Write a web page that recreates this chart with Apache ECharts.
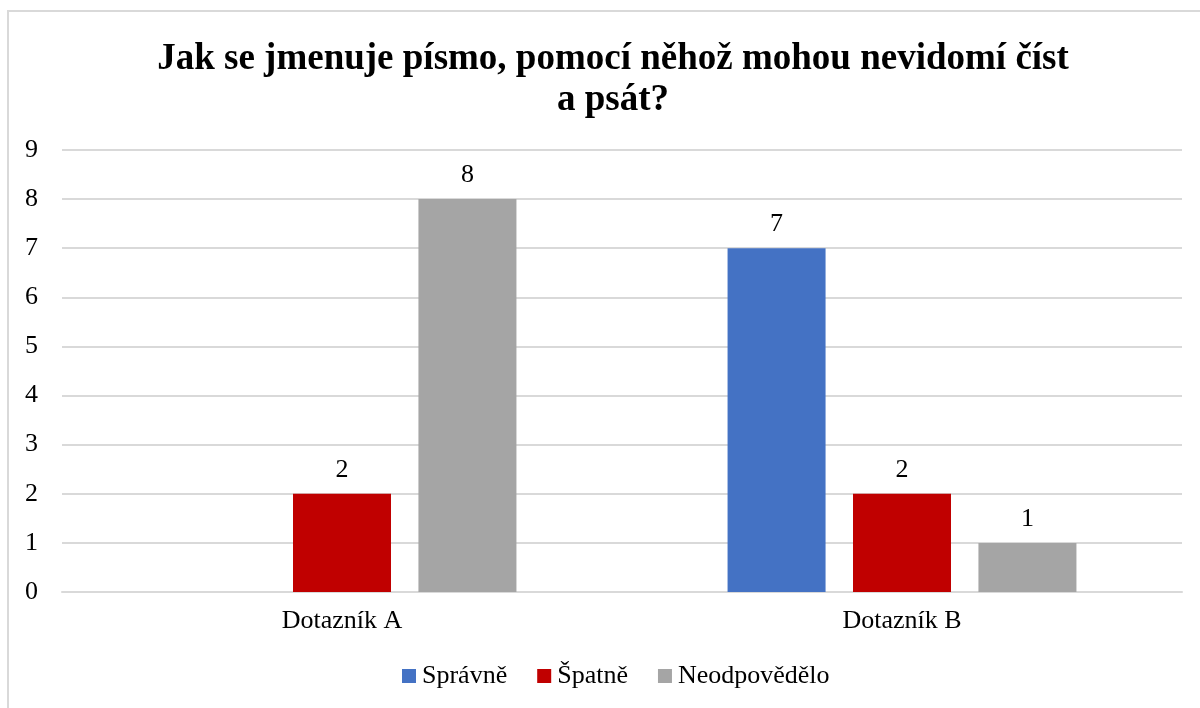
<!DOCTYPE html>
<html>
<head>
<meta charset="utf-8">
<script src="https://cdn.jsdelivr.net/npm/echarts@6/dist/echarts.min.js"></script>
<style>
  html, body { margin: 0; padding: 0; background: #fff; }
  #chart { width: 1200px; height: 708px; }
</style>
</head>
<body>
<div id="chart"></div>
<script>
const categories = ['Dotazník A', 'Dotazník B'];
const seriesNames = ['Správně', 'Špatně', 'Neodpovědělo'];
const spravne = [0, 7];
const spatne = [2, 2];
const neodpovedelo = [8, 1];
const colors = ['#4472C4', '#C00000', '#A5A5A5'];

const font = '"Liberation Serif", "Times New Roman", serif';

const chart = echarts.init(document.getElementById('chart'));

function barSeries(name, data, color) {
  return {
    name: name,
    type: 'bar',
    data: data,
    barWidth: 98,
    barGap: '28%',
    itemStyle: { color: color },
    label: {
      show: true,
      position: 'top',
      distance: 11,
      fontFamily: font,
      fontSize: 26,
      color: '#000',
      formatter: p => (p.value === 0 ? '' : p.value)
    }
  };
}

chart.setOption({
  animation: false,
  color: colors,
  title: {
    text: 'Jak se jmenuje písmo, pomocí něhož mohou nevidomí číst\na psát?',
    left: 608,
    textAlign: 'center',
    top: 34,
    textStyle: {
      fontFamily: font,
      fontSize: 37,
      fontWeight: 'bold',
      color: '#000',
      lineHeight: 41
    }
  },
  graphic: [{
    type: 'rect',
    shape: { x: 8, y: 11, width: 1200, height: 710 },
    style: { fill: 'none', stroke: '#d9d9d9', lineWidth: 2 },
    silent: true
  }],
  legend: {
    bottom: 14,
    left: 397,
    itemWidth: 14,
    itemHeight: 14,
    itemGap: 30,
    icon: 'rect',
    textStyle: { fontFamily: font, fontSize: 26, color: '#000', padding: [0, 0, 0, 1] },
    data: seriesNames
  },
  grid: { left: 62, right: 18, top: 150, bottom: 116 },
  xAxis: {
    type: 'category',
    data: categories,
    axisLine: { show: true, lineStyle: { color: '#d9d9d9', width: 2 } },
    axisTick: { show: false },
    axisLabel: { fontFamily: font, fontSize: 26, color: '#000', margin: 16 }
  },
  yAxis: {
    type: 'value',
    min: 0,
    max: 9,
    interval: 1,
    axisLine: { show: false },
    axisTick: { show: false },
    splitLine: { lineStyle: { color: '#d9d9d9', width: 2 } },
    axisLabel: { fontFamily: font, fontSize: 26, color: '#000', margin: 24 }
  },
  series: [
    barSeries(seriesNames[0], spravne, colors[0]),
    barSeries(seriesNames[1], spatne, colors[1]),
    barSeries(seriesNames[2], neodpovedelo, colors[2])
  ]
});
</script>
</body>
</html>
